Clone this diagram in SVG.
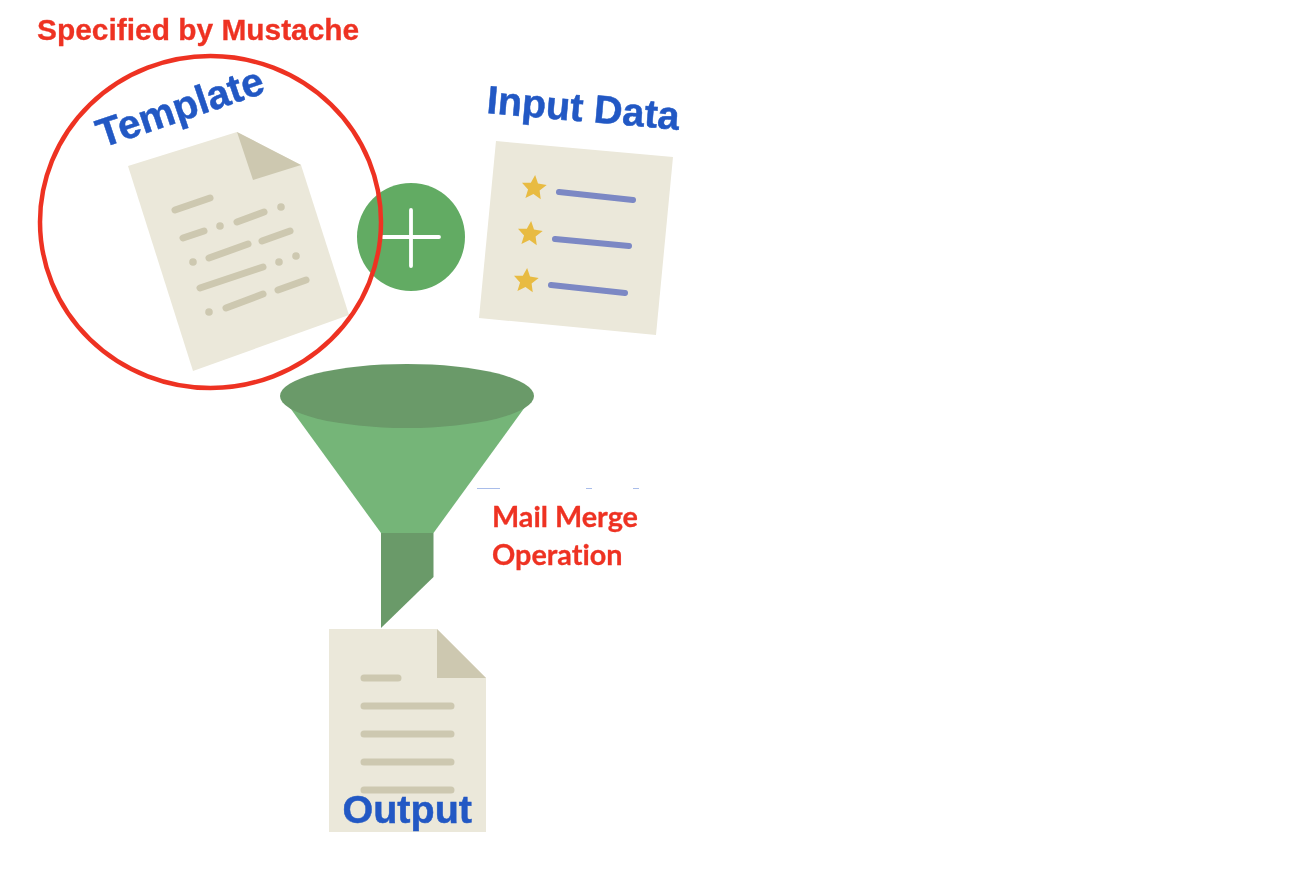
<svg xmlns="http://www.w3.org/2000/svg" width="1300" height="890" viewBox="0 0 1300 890">
<style>
.doc{fill:#ebe8da}
.fold{fill:#cdc8b0}
.ln{stroke:#cdc8b0;stroke-width:7;stroke-linecap:round;fill:none}
.dot{fill:#cdc8b0}
.bar{stroke:#7b88c4;stroke-width:6;stroke-linecap:round;fill:none}
.star{fill:#e8bb42}
.blue{font-family:"Liberation Sans",Arial,sans-serif;font-weight:700;fill:#2158c4;stroke:#2158c4;stroke-width:.5;font-size:39.5px}
.red{font-family:"Liberation Sans",Arial,sans-serif;font-weight:700;fill:#ee3324;stroke:#ee3324;stroke-width:.3;font-size:29.9px}
.redc{font-family:Lato,"Open Sans",sans-serif;font-weight:700;fill:#ee3324;stroke:#ee3324;stroke-width:.3;font-size:28.8px;font-variant-ligatures:none}
.soft{filter:url(#soft)}
</style>
<defs>
<filter id="soft" x="-5%" y="-5%" width="110%" height="110%"><feGaussianBlur stdDeviation="0.6"/></filter>
<path id="st" d="M0-13 3.6-4.9 12.4-4.1 5.8 1.9 7.7 10.6 0 6.1-7.7 10.6-5.8 1.9-12.4-4.1-3.6-4.9Z"/>
</defs>
<rect width="1300" height="890" fill="#ffffff"/>
<g class="soft">
<g id="template-doc">
<polygon class="doc" points="128,166 237,132 301,165 349,315 193,371"/>
<polygon class="fold" points="237,132 301,165 253,180"/>
<path class="ln" d="M175 210 210 198M183 238 204 231M237 222 264 212M262 241 290 231M209 258 248 244M200 288 263 267M278 290 306 280M226 308 263 294"/>
<circle class="dot" cx="220" cy="226" r="3.8"/>
<circle class="dot" cx="281" cy="207" r="3.8"/>
<circle class="dot" cx="193" cy="262" r="3.8"/>
<circle class="dot" cx="279" cy="262" r="3.8"/>
<circle class="dot" cx="296" cy="256" r="3.8"/>
<circle class="dot" cx="209" cy="312" r="3.8"/>
</g>
<g id="plus">
<circle cx="411" cy="237" r="54" fill="#62ab64"/>
<path d="M411 210V266M383 237H439" stroke="#ffffff" stroke-width="3.8" stroke-linecap="round" fill="none"/>
</g>
<g id="mustache-circle">
<ellipse cx="210.5" cy="222" rx="170.5" ry="166" fill="none" stroke="#ee3324" stroke-width="4.5"/>
</g>
<g id="input-doc">
<polygon class="doc" points="496,141 673,157 656,335 479,318"/>
<use href="#st" class="star" transform="translate(534,188) rotate(5)"/>
<use href="#st" class="star" transform="translate(530,234) rotate(5)"/>
<use href="#st" class="star" transform="translate(526,281) rotate(5)"/>
<path class="bar" d="M559 192 633 200M555 239 629 246M551 285 625 293"/>
</g>
<g id="funnel">
<polygon points="288,405 525,407 433.5,533 381,533" fill="#74b578"/>
<polygon points="381,533 433.5,533 433.5,577 381,628" fill="#6a9a69"/>
<ellipse cx="407" cy="396" rx="127" ry="32" fill="#6a9a69"/>
</g>
<g id="clipped-marks" fill="#a9bdea">
<rect x="477" y="488" width="23" height="1"/>
<rect x="586" y="488" width="6" height="1"/>
<rect x="633" y="488" width="6" height="1"/>
</g>
<g id="output-doc">
<polygon class="doc" points="329,629 437,629 486,678 486,832 329,832"/>
<polygon class="fold" points="437,629 486,678 437,678"/>
<path class="ln" d="M364 678H398M364 706H451M364 734H451M364 762H451M364 790H451"/>
</g>
<g id="labels">
<text class="red" x="37" y="40">Specified by Mustache</text>
<text class="blue" transform="translate(102,148) rotate(-18.7)" style="font-size:40.3px">Template</text>
<text class="blue" transform="translate(486,113) rotate(5)">Input Data</text>
<text class="redc" x="492" y="527">Mail Merge</text>
<text class="redc" x="492" y="565">Operation</text>
<text class="blue" x="342.5" y="823">Output</text>
</g>
</g>
</svg>
